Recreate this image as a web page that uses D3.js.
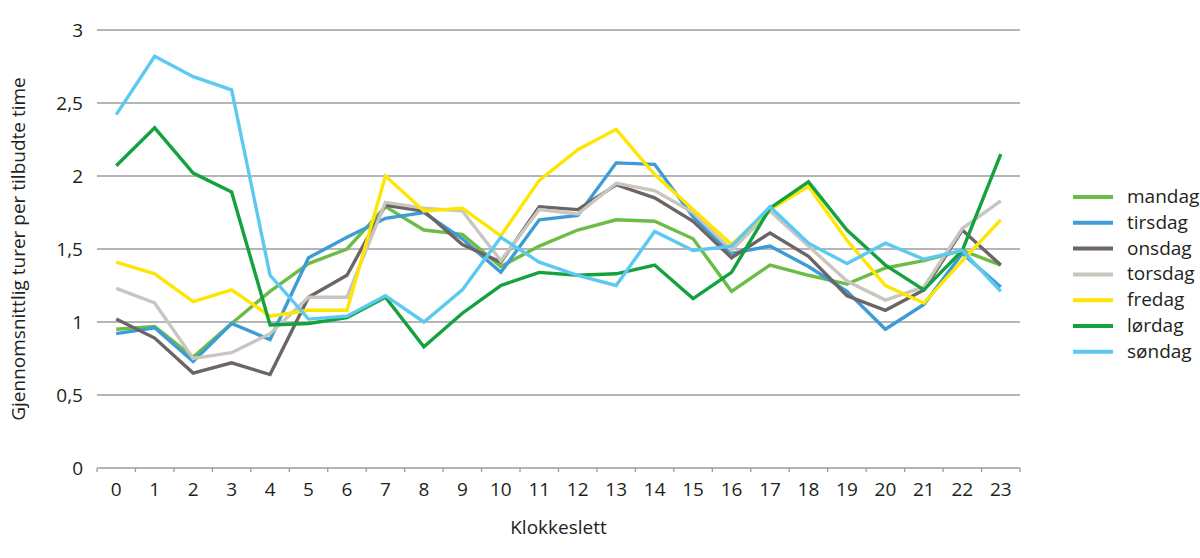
<!DOCTYPE html>
<html>
<head>
<meta charset="utf-8">
<script src="https://cdn.jsdelivr.net/npm/d3@7"></script>
<style>
  html, body { margin: 0; padding: 0; background: #fff; }
  svg text { font-family: "Open Sans", "Noto Sans", sans-serif; fill: #231f20; }
</style>
</head>
<body>
<svg id="chart" width="1200" height="558"></svg>
<script>
const hours = ["0","1","2","3","4","5","6","7","8","9","10","11","12","13","14","15","16","17","18","19","20","21","22","23"];
const yTicks = [0, 0.5, 1, 1.5, 2, 2.5, 3];
const seriesNames = ["mandag","tirsdag","onsdag","torsdag","fredag","lørdag","søndag"];
const seriesColors = ["#6cbd45","#3d9bd5","#6d6466","#c9c6c0","#ffe600","#14a23e","#5cc9f1"];

const mandag  = [0.95,0.97,0.76,0.99,1.21,1.40,1.50,1.79,1.63,1.60,1.38,1.52,1.63,1.70,1.69,1.57,1.21,1.39,1.32,1.26,1.37,1.42,1.49,1.39];
const tirsdag = [0.92,0.96,0.73,0.99,0.88,1.44,1.58,1.71,1.75,1.57,1.34,1.70,1.73,2.09,2.08,1.72,1.47,1.52,1.38,1.21,0.95,1.12,1.47,1.24];
const onsdag  = [1.02,0.89,0.65,0.72,0.64,1.17,1.32,1.80,1.76,1.53,1.41,1.79,1.77,1.94,1.85,1.69,1.44,1.61,1.45,1.18,1.08,1.22,1.63,1.39];
const torsdag = [1.23,1.13,0.75,0.79,0.92,1.17,1.17,1.82,1.78,1.76,1.42,1.77,1.74,1.95,1.90,1.75,1.49,1.76,1.52,1.28,1.15,1.24,1.64,1.83];
const fredag  = [1.41,1.33,1.14,1.22,1.04,1.08,1.08,2.00,1.76,1.78,1.59,1.97,2.18,2.32,2.01,1.77,1.53,1.77,1.93,1.56,1.25,1.13,1.42,1.70];
const lordag  = [2.07,2.33,2.02,1.89,0.98,0.99,1.03,1.17,0.83,1.06,1.25,1.34,1.32,1.33,1.39,1.16,1.34,1.78,1.96,1.63,1.39,1.22,1.49,2.15];
const sondag  = [2.42,2.82,2.68,2.59,1.32,1.02,1.04,1.18,1.00,1.22,1.58,1.41,1.32,1.25,1.62,1.49,1.52,1.79,1.54,1.40,1.54,1.43,1.49,1.21];

const allSeries = [mandag, tirsdag, onsdag, torsdag, fredag, lordag, sondag];

const svg = d3.select("#chart");
const mLeft = 97, mRight = 1020, mTop = 30, mBottom = 468;
const fs = 19;

const x = d3.scaleBand().domain(hours).range([mLeft, mRight]);
const y = d3.scaleLinear().domain([0, 3]).range([mBottom, mTop]);

// gridlines
svg.append("g")
  .selectAll("line")
  .data(yTicks)
  .join("line")
  .attr("x1", mLeft).attr("x2", mRight)
  .attr("y1", d => y(d)).attr("y2", d => y(d))
  .attr("stroke", "#9d9d9d").attr("stroke-width", 1.3);

// y labels
const fmt = d => String(d).replace(".", ",");
svg.append("g")
  .selectAll("text")
  .data(yTicks)
  .join("text")
  .attr("x", 83).attr("y", d => y(d))
  .attr("dy", "0.35em")
  .attr("text-anchor", "end")
  .attr("font-size", fs)
  .text(fmt);

// x axis
const xAxis = d3.axisBottom(x).tickSize(0).tickFormat(d => d);
const gx = svg.append("g").attr("transform", `translate(0,${mBottom})`).call(xAxis);
gx.select(".domain").remove();
gx.selectAll("text").attr("font-size", fs).attr("dy", null).attr("y", 28)
  .style("font-family", '"Open Sans", "Noto Sans", sans-serif').attr("fill", "#231f20");
// tick marks at band boundaries
const bounds = hours.map(h => x(h)).concat([mRight]);
svg.append("g").selectAll("line").data(bounds).join("line")
  .attr("x1", d => d).attr("x2", d => d)
  .attr("y1", mBottom).attr("y2", mBottom + 4)
  .attr("stroke", "#9d9d9d").attr("stroke-width", 1.3);

// series lines
const line = d3.line()
  .x((d, i) => x(hours[i]) + x.bandwidth() / 2)
  .y(d => y(d));

svg.append("g")
  .selectAll("path")
  .data(allSeries)
  .join("path")
  .attr("d", d => line(d))
  .attr("fill", "none")
  .attr("stroke", (d, i) => seriesColors[i])
  .attr("stroke-width", 3.4)
  .attr("stroke-linejoin", "miter");

// axis titles
svg.append("text")
  .attr("x", (mLeft + mRight) / 2).attr("y", 534)
  .attr("text-anchor", "middle")
  .attr("font-size", fs)
  .text("Klokkeslett");

svg.append("text")
  .attr("transform", `translate(18,${(mTop + mBottom) / 2}) rotate(-90)`)
  .attr("text-anchor", "middle")
  .attr("dy", "0.35em")
  .attr("font-size", fs)
  .text("Gjennomsnittlig turer per tilbudte time");

// legend
const lg = svg.append("g");
const rows = lg.selectAll("g").data(seriesNames).join("g")
  .attr("transform", (d, i) => `translate(1073,${197 + i * 25.8})`);
rows.append("line")
  .attr("x1", 0).attr("x2", 40).attr("y1", 0).attr("y2", 0)
  .attr("stroke", (d, i) => seriesColors[i])
  .attr("stroke-width", 4);
rows.append("text")
  .attr("x", 54).attr("y", 0).attr("dy", "0.32em")
  .attr("font-size", fs)
  .text(d => d);
</script>
</body>
</html>
